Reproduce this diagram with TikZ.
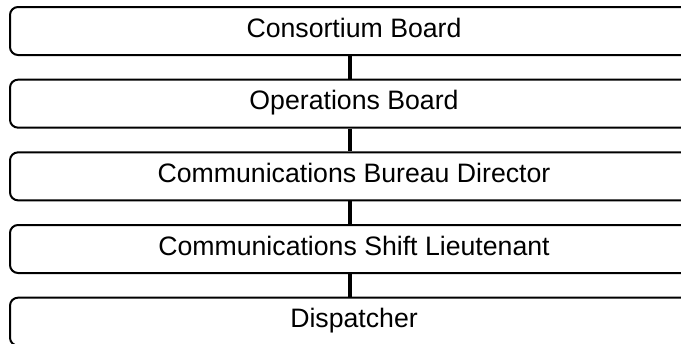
\documentclass[tikz,border=0pt]{standalone}
\usepackage{fontspec}
\setmainfont{Liberation Sans}
\usetikzlibrary{positioning}

\begin{document}
\begin{tikzpicture}[x=0.75pt,y=-0.75pt,line width=1.5pt,
    tier/.style={draw,rounded corners=6pt,inner sep=0pt,minimum width=516pt,
      text height=22.5pt,text depth=13.5pt,font=\fontsize{20}{24}\selectfont},
    link/.style={line width=3.4pt},
    node distance=17pt]
  \useasboundingbox (0,0) rectangle (681,343);
  % the chain of command, top to bottom
  \node[tier] (board) at (354,31) {Consortium Board};
  \node[tier,below=of board] (ops) {Operations Board};
  \node[tier,below=of ops] (dir) {Communications Bureau Director};
  \node[tier,below=of dir] (lt) {Communications Shift Lieutenant};
  \node[tier,below=of lt] (disp) {Dispatcher};
  % short bars between the tiers
  \draw[link] ([xshift=-3pt]board.south) -- ([xshift=-3pt]ops.north);
  \draw[link] ([xshift=-3pt]ops.south) -- ([xshift=-3pt]dir.north);
  \draw[link] ([xshift=-3pt]dir.south) -- ([xshift=-3pt]lt.north);
  \draw[link] ([xshift=-3pt]lt.south) -- ([xshift=-3pt]disp.north);
\end{tikzpicture}
\end{document}
